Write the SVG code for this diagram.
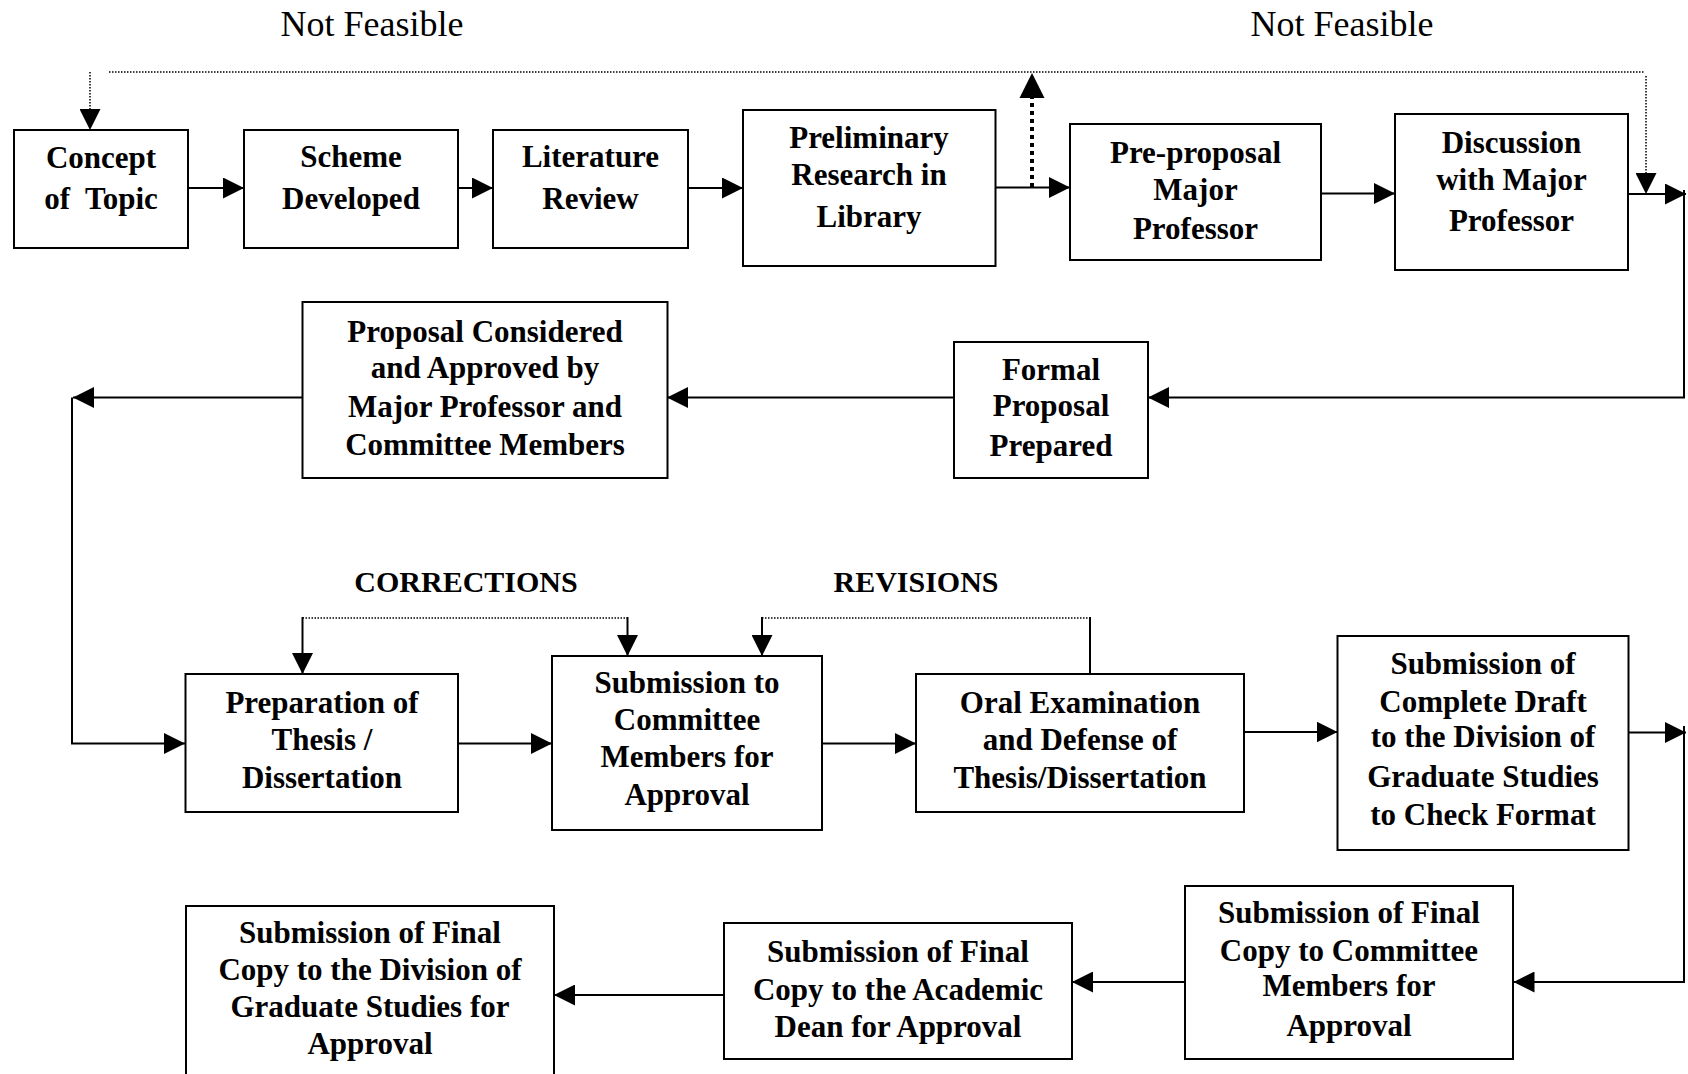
<svg xmlns="http://www.w3.org/2000/svg" width="1688" height="1074" viewBox="0 0 1688 1074">
<style>
.box{fill:#fff;stroke:#000;stroke-width:2}
.t{font-family:"Liberation Serif","Times New Roman",serif;font-weight:bold;font-size:31px;text-anchor:middle;fill:#000;white-space:pre}
.lbl{font-family:"Liberation Serif","Times New Roman",serif;font-size:36px;text-anchor:middle;fill:#000}
.cap{font-family:"Liberation Serif","Times New Roman",serif;font-weight:bold;font-size:30px;text-anchor:middle;fill:#000}
.c{fill:none;stroke:#000;stroke-width:2}
.d{fill:none;stroke:#000;stroke-width:1.5;stroke-dasharray:1.5 1.5}
.dd{fill:none;stroke:#000;stroke-width:4;stroke-dasharray:4 4}
</style>
<defs>
<marker id="ah" markerUnits="userSpaceOnUse" markerWidth="21" markerHeight="21" viewBox="0 0 21 21" refX="21" refY="10.5" orient="auto"><path d="M0,0 L21,10.5 L0,21 z" fill="#000"/></marker>
</defs>

<text class="lbl" x="372" y="36">Not Feasible</text>
<text class="lbl" x="1342" y="36">Not Feasible</text>
<text class="cap" x="466" y="592">CORRECTIONS</text>
<text class="cap" x="916" y="592">REVISIONS</text>

<g id="connectors">
<path class="d" d="M90,72 V130" marker-end="url(#ah)"/>
<path class="d" d="M109,72 H1644"/>
<path class="d" d="M1646,76 V194" marker-end="url(#ah)"/>
<path class="dd" d="M1032,187 V98"/>
<path d="M1019.5,98 L1032,73 L1044.5,98 z" fill="#000"/>
<path class="c" d="M187,188 H244" marker-end="url(#ah)"/>
<path class="c" d="M456,188 H493" marker-end="url(#ah)"/>
<path class="c" d="M687,188 H743" marker-end="url(#ah)"/>
<path class="c" d="M995,187.5 H1070" marker-end="url(#ah)"/>
<path class="c" d="M1321,193.5 H1395" marker-end="url(#ah)"/>
<path class="c" d="M1627,194 H1686" marker-end="url(#ah)"/>
<path class="c" d="M1684,190 V397.5 H1148" marker-end="url(#ah)"/>
<path class="c" d="M954,397.5 H667" marker-end="url(#ah)"/>
<path class="c" d="M302,397.5 H73" marker-end="url(#ah)"/>
<path class="c" d="M72,397.5 V743.5 H185" marker-end="url(#ah)"/>
<path class="c" d="M458,743.5 H552" marker-end="url(#ah)"/>
<path class="c" d="M822,743.5 H916" marker-end="url(#ah)"/>
<path class="c" d="M1244,732 H1337.5" marker-end="url(#ah)"/>
<path class="c" d="M1627,732.5 H1686" marker-end="url(#ah)"/>
<path class="c" d="M1684,726 V982 H1513.5" marker-end="url(#ah)"/>
<path class="c" d="M1185,982 H1072" marker-end="url(#ah)"/>
<path class="c" d="M724,995 H554" marker-end="url(#ah)"/>
<path class="d" d="M302.5,618 H627.5"/>
<path class="c" d="M302.5,617 V674" marker-end="url(#ah)"/>
<path class="c" d="M627.5,617 V656" marker-end="url(#ah)"/>
<path class="c" d="M762,617 V656" marker-end="url(#ah)"/>
<path class="d" d="M762,618 H1090"/>
<path class="c" d="M1090,617 V674"/>
</g>

<g id="concept"><rect class="box" x="14" y="130" width="174" height="118"/>
<text class="t" x="101" y="168">Concept</text><text class="t" x="101" y="209">of  Topic</text></g>
<g id="scheme"><rect class="box" x="244" y="130" width="214" height="118"/>
<text class="t" x="351" y="167">Scheme</text><text class="t" x="351" y="209">Developed</text></g>
<g id="literature"><rect class="box" x="493" y="130" width="195" height="118"/>
<text class="t" x="590.5" y="167">Literature</text><text class="t" x="590.5" y="209">Review</text></g>
<g id="preliminary"><rect class="box" x="743" y="110" width="252.5" height="156"/>
<text class="t" x="869" y="148">Preliminary</text><text class="t" x="869" y="185">Research in</text><text class="t" x="869" y="227">Library</text></g>
<g id="preproposal"><rect class="box" x="1070" y="124" width="251" height="136"/>
<text class="t" x="1195.5" y="163">Pre-proposal</text><text class="t" x="1195.5" y="200">Major</text><text class="t" x="1195.5" y="239">Professor</text></g>
<g id="discussion"><rect class="box" x="1395" y="114" width="233" height="156"/>
<text class="t" x="1511.5" y="153">Discussion</text><text class="t" x="1511.5" y="190">with Major</text><text class="t" x="1511.5" y="231">Professor</text></g>

<g id="proposal-approved"><rect class="box" x="302.5" y="302" width="365" height="176"/>
<text class="t" x="485" y="342">Proposal Considered</text><text class="t" x="485" y="378">and Approved by</text><text class="t" x="485" y="417">Major Professor and</text><text class="t" x="485" y="455">Committee Members</text></g>
<g id="formal-proposal"><rect class="box" x="954" y="342" width="194" height="136"/>
<text class="t" x="1051" y="380">Formal</text><text class="t" x="1051" y="416">Proposal</text><text class="t" x="1051" y="456">Prepared</text></g>

<g id="preparation"><rect class="box" x="185.5" y="674" width="272.5" height="138"/>
<text class="t" x="322" y="713">Preparation of</text><text class="t" x="322" y="750">Thesis /</text><text class="t" x="322" y="788">Dissertation</text></g>
<g id="submission-committee"><rect class="box" x="552" y="656" width="270" height="174"/>
<text class="t" x="687" y="693">Submission to</text><text class="t" x="687" y="730">Committee</text><text class="t" x="687" y="767">Members for</text><text class="t" x="687" y="805">Approval</text></g>
<g id="oral-exam"><rect class="box" x="916" y="674" width="328" height="138"/>
<text class="t" x="1080" y="713">Oral Examination</text><text class="t" x="1080" y="750">and Defense of</text><text class="t" x="1080" y="788">Thesis/Dissertation</text></g>
<g id="complete-draft"><rect class="box" x="1337.5" y="636" width="291" height="214"/>
<text class="t" x="1483" y="674">Submission of</text><text class="t" x="1483" y="712">Complete Draft</text><text class="t" x="1483" y="747">to the Division of</text><text class="t" x="1483" y="787">Graduate Studies</text><text class="t" x="1483" y="825">to Check Format</text></g>

<g id="final-division"><rect class="box" x="186" y="906" width="368" height="200"/>
<text class="t" x="370" y="943">Submission of Final</text><text class="t" x="370" y="980">Copy to the Division of</text><text class="t" x="370" y="1017">Graduate Studies for</text><text class="t" x="370" y="1054">Approval</text></g>
<g id="final-dean"><rect class="box" x="724" y="923" width="348" height="136"/>
<text class="t" x="898" y="962">Submission of Final</text><text class="t" x="898" y="1000">Copy to the Academic</text><text class="t" x="898" y="1037">Dean for Approval</text></g>
<g id="final-committee"><rect class="box" x="1185" y="886" width="328" height="173"/>
<text class="t" x="1349" y="923">Submission of Final</text><text class="t" x="1349" y="961">Copy to Committee</text><text class="t" x="1349" y="996">Members for</text><text class="t" x="1349" y="1036">Approval</text></g>
</svg>
